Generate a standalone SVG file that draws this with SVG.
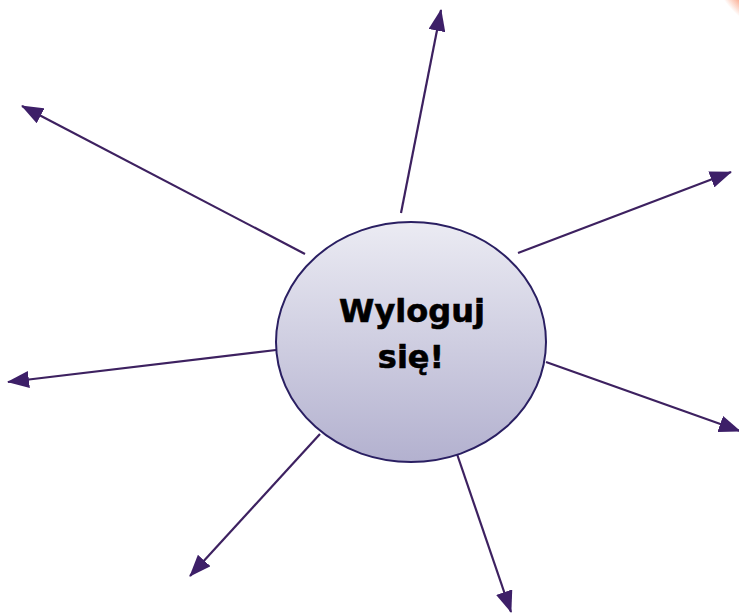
<svg xmlns="http://www.w3.org/2000/svg" width="739" height="616" viewBox="0 0 739 616">
<style>
.conn{stroke:#3d2160;stroke-width:2.2;fill:none;marker-end:url(#ah)}
.lbl{font-family:"DejaVu Sans","Liberation Sans",sans-serif;font-weight:bold;font-size:32px;fill:#000;stroke:#000;stroke-width:0.6;text-anchor:middle}
</style>
<defs>
<marker id="ah" viewBox="0 0 22 17" refX="21" refY="8.5" markerWidth="22" markerHeight="17" markerUnits="userSpaceOnUse" orient="auto">
<path d="M0,0 L22,8.5 L0,17 Z" fill="#3d1f68"/>
</marker>
<linearGradient id="g" x1="0" y1="0" x2="0" y2="1">
<stop offset="0" stop-color="#ebebf3"/>
<stop offset="1" stop-color="#b3b1cf"/>
</linearGradient>
<radialGradient id="og" cx="0.5" cy="0.5" r="0.5">
<stop offset="0.85" stop-color="#fbb096"/>
<stop offset="1" stop-color="#fbb096" stop-opacity="0"/>
</radialGradient>
</defs>
<circle cx="790" cy="-45" r="80" fill="url(#og)"/>
<g id="connectors">
<line class="conn" x1="401" y1="213" x2="441" y2="10"/>
<line class="conn" x1="305" y1="254" x2="22" y2="106"/>
<line class="conn" x1="518" y1="253" x2="731" y2="172"/>
<line class="conn" x1="276" y1="350" x2="8" y2="382"/>
<line class="conn" x1="546" y1="362" x2="740" y2="431"/>
<line class="conn" x1="320" y1="434" x2="190" y2="576"/>
<line class="conn" x1="457" y1="454" x2="511" y2="612"/>
</g>
<g id="center">
<ellipse cx="411" cy="342" rx="135" ry="120" fill="url(#g)" stroke="#2a1f62" stroke-width="2"/>
<text class="lbl" x="412" y="322">Wyloguj</text>
<text class="lbl" x="411" y="368">się!</text>
</g>
</svg>
